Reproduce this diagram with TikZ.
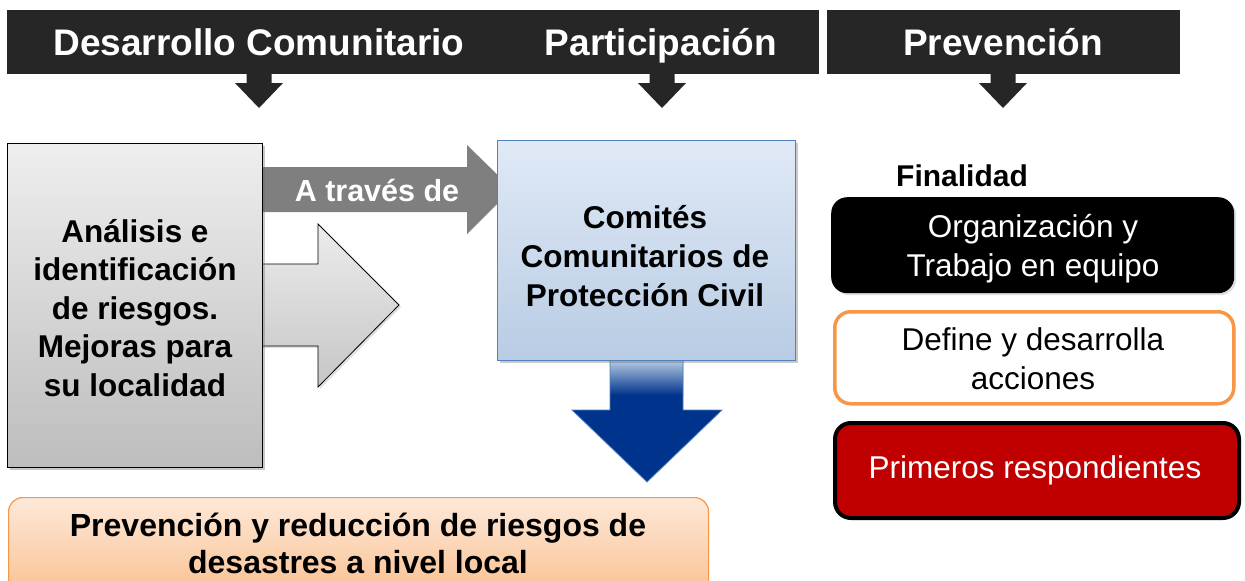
\documentclass[tikz,border=0pt]{standalone}
\usepackage{fontspec}
\setmainfont{Liberation Sans}
\usetikzlibrary{shadows}
\definecolor{hdr}{HTML}{262626}
\definecolor{grayarrow}{HTML}{7F7F7F}
\definecolor{bluetop}{HTML}{E0E9F6}
\definecolor{bluebot}{HTML}{B8CCE4}
\definecolor{blueline}{HTML}{4F81BD}
\definecolor{navy}{RGB}{0,51,140}
\definecolor{peach}{HTML}{FDE9D9}
\definecolor{orangebot}{HTML}{FAC090}
\definecolor{orangeline}{HTML}{F79646}
\definecolor{darkred}{HTML}{C00000}
\tikzset{
  hdrbox/.style={fill=hdr, draw=none},
  hdrtext/.style={text=white, font=\bfseries\fontsize{37}{42}\selectfont, anchor=base, inner sep=0pt},
  hdrarrow/.style={fill=hdr, draw=none},
  bodybold/.style={font=\bfseries\fontsize{31.5}{38.5}\selectfont, align=center, inner sep=0pt},
  bodyreg/.style={font=\fontsize{31.5}{39}\selectfont, align=center, inner sep=0pt},
  softshadow/.style={drop shadow={shadow xshift=2.5pt, shadow yshift=-2.5pt, opacity=0.35, fill=black!60}},
}
\begin{document}
\begin{tikzpicture}[x=1pt,y=-1pt]
\useasboundingbox (0,0) rectangle (1245,581);
\fill[white] (0,0) rectangle (1245,581);

% header bars
\fill[hdrbox] (505,10) rectangle (819,74);
\fill[hdrbox] (7,10) rectangle (511,74);
\fill[hdrbox] (827,10) rectangle (1180,74);
\node[hdrtext] (h1) at (259,55) {Desarrollo Comunitario};
\node[hdrtext] (h2) at (661,55) {Participación};
\node[hdrtext] (h3) at (1003,55) {Prevención};

% header down arrows
\foreach \cx in {259,662,1003}{
  \fill[hdrarrow] (\cx-12.5,73) -- (\cx+12.5,73) -- (\cx+12.5,83) -- (\cx+24,83)
     -- (\cx,108) -- (\cx-24,83) -- (\cx-12.5,83) -- cycle;
}

% "A traves de" arrow
\fill[grayarrow] (250,167) -- (467,167) -- (467,145) -- (512,189) -- (467,234)
   -- (467,212) -- (250,212) -- cycle;
\node[text=white, font=\bfseries\fontsize{30.5}{36}\selectfont, anchor=base, inner sep=0pt] (via) at (377,201) {A través de};

% big gray block arrow
\draw[draw=black, line width=0.8pt, top color=gray!15, bottom color=gray!45, drop shadow={shadow xshift=2pt, shadow yshift=-2pt, opacity=0.25}]
   (250,264) -- (318,264) -- (318,224) -- (399,305) -- (318,387) -- (318,346) -- (250,346) -- cycle;

% left gray box
\node[draw=black, line width=0.8pt, top color=gray!13, bottom color=gray!52, softshadow,
      minimum width=255pt, minimum height=324pt, inner sep=0pt, anchor=north west] (analisis) at (7,143) {};
\node[bodybold] (analisistxt) at (135,308) {Análisis e\\identificación\\de riesgos.\\Mejoras para\\su localidad};

% blue down arrow
\fill[navy] (610,360) -- (683,360) -- (683,410) -- (722,410) -- (647,482) -- (572,410) -- (610,410) -- cycle;
\shade[top color=bluebot, bottom color=navy] (610,360) rectangle (683,395);
\draw[blueline, line width=0.8pt] (610,360) -- (610,410) -- (572,410) -- (647,482) -- (722,410) -- (683,410) -- (683,360);

% blue box
\node[draw=blueline, line width=1pt, top color=bluetop, bottom color=bluebot, softshadow,
      minimum width=298pt, minimum height=220pt, inner sep=0pt, anchor=north west] (comites) at (497,140) {};
\node[bodybold, font=\bfseries\fontsize{31.5}{39}\selectfont] (comitestxt) at (645,256) {Comités\\Comunitarios de\\Protección Civil};

% bottom orange box
\node[draw=orangeline, line width=1.2pt, top color=peach, bottom color=orangebot, rounded corners=14pt,
      minimum width=700pt, minimum height=100pt, inner sep=0pt, anchor=north west] (prev) at (8,497) {};
\node[bodybold, font=\bfseries\fontsize{32}{37}\selectfont] (prevtxt) at (358,543) {Prevención y reducción de riesgos de\\desastres a nivel local};

% right column
\node[font=\bfseries\fontsize{30}{36}\selectfont, inner sep=0pt] (fin) at (962,176) {Finalidad};

\node[fill=black, rounded corners=16pt, minimum width=403pt, minimum height=96pt, inner sep=0pt,
      anchor=north west, drop shadow={shadow xshift=2pt, shadow yshift=-2pt, opacity=0.25}] (org) at (831,197) {};
\node[bodyreg, text=white] (orgtxt) at (1033,249) {Organización y\\Trabajo en equipo};

\node[draw=orangeline, line width=3.5pt, fill=white, rounded corners=16pt, minimum width=399pt, minimum height=92pt,
      inner sep=0pt, anchor=north west] (def) at (833,310) {};
\node[bodyreg] (deftxt) at (1033,359) {Define y desarrolla\\acciones};

\node[draw=black, line width=4pt, fill=darkred, rounded corners=16pt, minimum width=404pt, minimum height=95pt,
      inner sep=0pt, anchor=north west] (prim) at (833,421) {};
\node[bodyreg, text=white] (primtxt) at (1035,470) {Primeros respondientes};
\end{tikzpicture}
\end{document}
